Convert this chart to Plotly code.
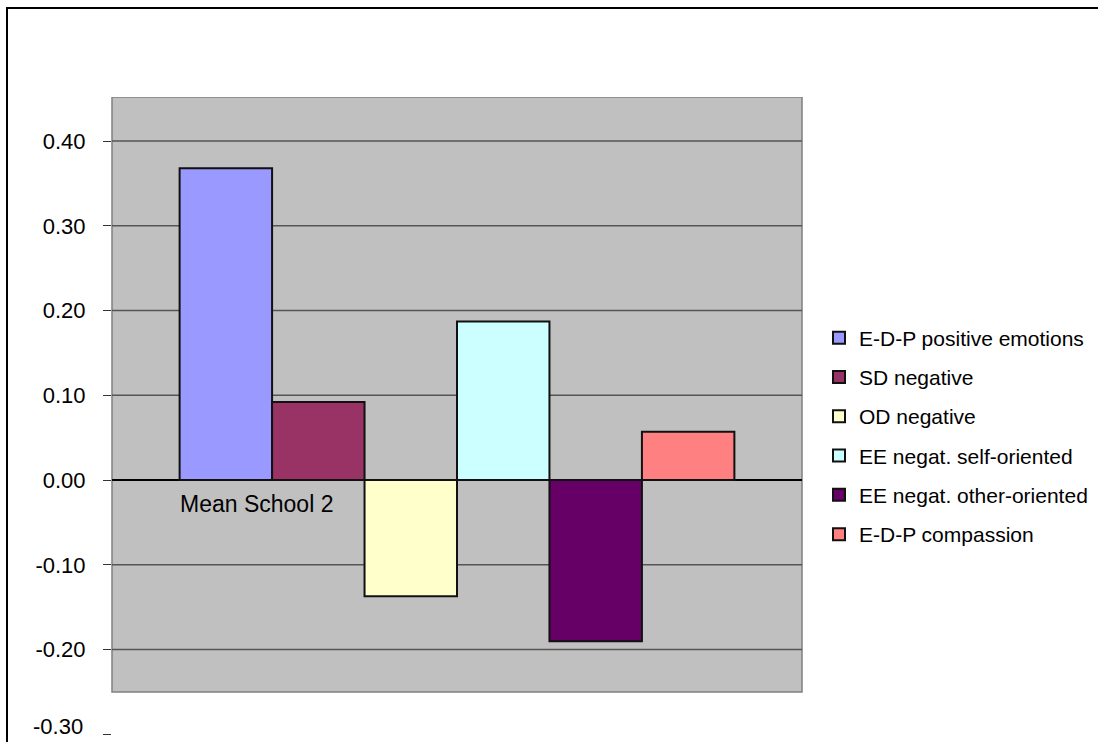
import plotly.graph_objects as go

categories = ["Mean School 2"]
series_names = [
    "E-D-P positive emotions",
    "SD negative",
    "OD negative",
    "EE negat. self-oriented",
    "EE negat. other-oriented",
    "E-D-P compassion",
]
series_values = [0.368, 0.092, -0.137, 0.187, -0.190, 0.057]
series_colors = ["#9999FF", "#993366", "#FFFFCC", "#CCFFFF", "#660066", "#FF8080"]
tick_values = [-0.3, -0.2, -0.1, 0.0, 0.1, 0.2, 0.3, 0.4]
tick_labels = ["-0.30", "-0.20", "-0.10", "0.00", "0.10", "0.20", "0.30", "0.40"]

FONT = "Liberation Sans, Arial, sans-serif"

fig = go.Figure()
for i, (name, val, col) in enumerate(zip(series_names, series_values, series_colors)):
    fig.add_trace(go.Bar(
        x=categories, y=[val], name=name,
        marker=dict(color=col, line=dict(color="#111111", width=2)),
        legendgroup="g%d" % i,
    ))

W, H = 1098, 742
L, R, T, B = 112, 1098 - 802, 97, 0
pw = W - L - R
ph = H - T - B

def px_x(px):
    return (px - L) / pw

def px_y(py):
    return (H - B - py) / ph

shapes = []
# gray plot area
shapes.append(dict(type="rect", xref="paper", yref="y", x0=0, x1=1, y0=-0.25, y1=0.452,
                   fillcolor="#C0C0C0", line=dict(color="#808080", width=1.5), layer="below"))
for v in tick_values:
    if -0.25 < v < 0.452 and v != 0:
        shapes.append(dict(type="line", xref="paper", yref="y", x0=0, x1=1, y0=v, y1=v,
                           line=dict(color="#555555", width=1.5), layer="below"))
# outer chart border
shapes.append(dict(type="rect", xref="paper", yref="paper",
                   x0=px_x(7), x1=px_x(1110), y0=px_y(760), y1=px_y(8),
                   line=dict(color="#000000", width=2), fillcolor="rgba(0,0,0,0)"))

# tick labels: the lowest one sits at the page edge, so it is drawn as an annotation
shown_text = [t if v > -0.25 else "" for v, t in zip(tick_values, tick_labels)]
annotations = [dict(text=categories[0], xref="paper", yref="y", x=px_x(178), y=0,
                    xanchor="left", yanchor="top", yshift=-9, showarrow=False,
                    font=dict(family=FONT, size=23, color="#000000"))]
for v, t in zip(tick_values, tick_labels):
    if v <= -0.25:
        annotations.append(dict(text=t, xref="paper", yref="y", x=px_x(84), y=v,
                                xanchor="right", yanchor="bottom", yshift=-6,
                                showarrow=False, borderpad=0,
                                font=dict(family=FONT, size=22, color="#000000")))

fig.update_layout(
    width=W, height=H,
    margin=dict(l=L, r=R, t=T, b=B, pad=0),
    paper_bgcolor="white", plot_bgcolor="white",
    barmode="group", bargap=0.196, bargroupgap=0,
    font=dict(family=FONT, size=22, color="#000000"),
    showlegend=True,
    legend=dict(x=px_x(819), xanchor="left", y=px_y(436), yanchor="middle",
                font=dict(family=FONT, size=21, color="#000000"),
                bgcolor="rgba(0,0,0,0)", tracegroupgap=9, itemwidth=30),
    shapes=shapes,
    annotations=annotations,
    xaxis=dict(showticklabels=False, showgrid=False, zeroline=False, showline=False, ticks=""),
    yaxis=dict(range=[-0.309, 0.452], tickvals=tick_values, ticktext=shown_text,
               showgrid=False, zeroline=True, zerolinecolor="#000000", zerolinewidth=1.5,
               ticks="outside", ticklen=8, tickcolor="#333333", tickwidth=1,
               ticklabelstandoff=13, showline=False,
               tickfont=dict(family=FONT, size=22, color="#000000")),
)

fig.write_html("out.html")
